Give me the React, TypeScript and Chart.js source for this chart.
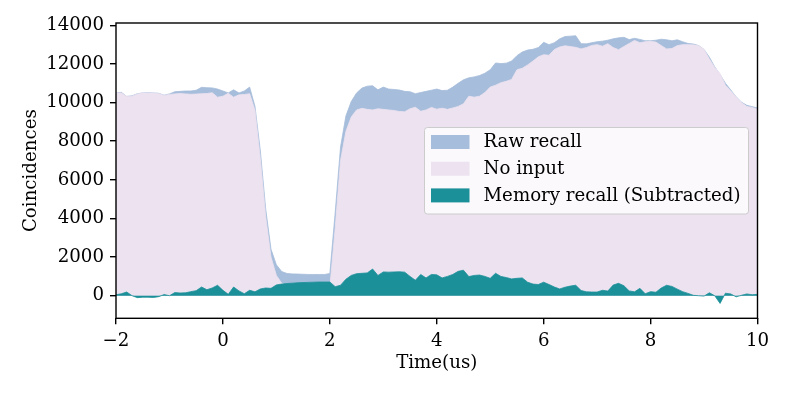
import React, { useEffect, useRef } from 'react';
import { Chart, registerables } from 'chart.js';

Chart.register(...registerables);

const TIME = [
  -2.0, -1.9, -1.8, -1.7, -1.6, -1.5, -1.4, -1.3, -1.2, -1.1,
  -1.0, -0.9, -0.8, -0.7, -0.6, -0.5, -0.4, -0.3, -0.2, -0.1,
  0.0, 0.1, 0.2, 0.3, 0.4, 0.5, 0.6, 0.7, 0.8, 0.9,
  1.0, 1.1, 1.2, 1.3, 1.4, 1.5, 1.6, 1.7, 1.8, 1.9,
  2.0, 2.1, 2.2, 2.3, 2.4, 2.5, 2.6, 2.7, 2.8, 2.9,
  3.0, 3.1, 3.2, 3.3, 3.4, 3.5, 3.6, 3.7, 3.8, 3.9,
  4.0, 4.1, 4.2, 4.3, 4.4, 4.5, 4.6, 4.7, 4.8, 4.9,
  5.0, 5.1, 5.2, 5.3, 5.4, 5.5, 5.6, 5.7, 5.8, 5.9,
  6.0, 6.1, 6.2, 6.3, 6.4, 6.5, 6.6, 6.7, 6.8, 6.9,
  7.0, 7.1, 7.2, 7.3, 7.4, 7.5, 7.6, 7.7, 7.8, 7.9,
  8.0, 8.1, 8.2, 8.3, 8.4, 8.5, 8.6, 8.7, 8.8, 8.9,
  9.0, 9.1, 9.2, 9.3, 9.4, 9.5, 9.6, 9.7, 9.8, 9.9,
  10.0,
];

const RAW_RECALL = [
  10490, 10530, 10320, 10350, 10460, 10500, 10510, 10500, 10480, 10380,
  10450, 10560, 10580, 10600, 10600, 10640, 10790, 10770, 10760, 10700,
  10600, 10500, 10660, 10500, 10600, 10800, 9800, 7500, 4500, 2400,
  1600, 1250, 1150, 1130, 1120, 1110, 1100, 1100, 1100, 1100,
  1150, 4300, 7700, 9300, 10050, 10500, 10750, 10850, 10870, 10660,
  10800, 10700, 10680, 10650, 10580, 10560, 10460, 10520, 10580, 10640,
  10700, 10620, 10640, 10800, 11000, 11180, 11280, 11330, 11400, 11520,
  11700, 12050, 12020, 12040, 12150, 12430, 12620, 12720, 12760, 12850,
  13120, 13000, 13100, 13300, 13420, 13440, 13460, 13050, 13040, 13100,
  13150, 13180, 13230, 13300, 13350, 13380, 13260, 13330, 13270, 13200,
  13200, 13230, 13280, 13250, 13200, 13250, 13150, 13060, 13030, 12950,
  12750, 12350, 11850, 11450, 11000, 10650, 10300, 10020, 9860, 9790,
  9720,
];

const NO_INPUT = [
  10490, 10500, 10320, 10330, 10450, 10490, 10500, 10490, 10470, 10370,
  10420, 10450, 10470, 10450, 10430, 10440, 10460, 10470, 10510, 10280,
  10330, 10480, 10280, 10400, 10420, 10460, 9600, 7100, 4100, 2000,
  1050, 650, 520, 480, 450, 430, 410, 400, 390, 390,
  440, 3500, 7000, 8500, 9250, 9620, 9700, 9650, 9620, 9680,
  9650, 9620, 9590, 9540, 9520, 9680, 9760, 9550, 9620, 9750,
  9660, 9710, 9650, 9720, 9800, 9940, 10330, 10280, 10330, 10520,
  10800, 10900, 11030, 11100, 11200, 11700, 11780, 11950, 12150, 12370,
  12480, 12450, 12750, 12880, 12940, 12900, 12860, 12780, 12850, 12960,
  13000, 12920, 13050, 12850, 12740, 12900, 13060, 13220, 13100, 13150,
  13170, 13130, 12950, 12780, 12800, 12950, 13000, 13000, 12990, 12940,
  12760, 12250, 11820, 11500, 10900, 10600, 10300, 10000, 9800, 9750,
  9660,
];

const MEMORY_RECALL = [
  50, 100, 190, 0, -100, -80, -80, -90, -50, 60,
  0, 160, 140, 150, 210, 260, 450, 310, 400, 540,
  280, 70, 450, 250, 100, 280, 200, 350, 400, 380,
  560, 600, 630, 650, 670, 680, 690, 700, 710, 710,
  710, 470, 540, 850, 1050, 1140, 1160, 1180, 1380, 1050,
  1230, 1220, 1230, 1240, 1220, 1000, 800, 1100, 920, 1100,
  1080, 920, 1000, 1100, 1260, 1320, 990, 1050, 1070, 1000,
  900, 1160, 1000, 940, 870, 900, 920, 700, 600, 580,
  700, 580, 450, 350, 440, 500, 540, 270, 200, 190,
  190, 280, 240, 550, 640, 520, 250, 200, 380, 100,
  210, 180, 400, 540, 480, 340, 210, 120, 20, 0,
  -20, 150, 0, -400, 130, 90, -60, 20, 90, 50,
  70,
];

const X_TICKS = [-2, 0, 2, 4, 6, 8, 10];
const Y_TICKS = [0, 2000, 4000, 6000, 8000, 10000, 12000, 14000];
const SERIES_LABELS = ['Raw recall', 'No input', 'Memory recall (Subtracted)'];
const SERIES_COLORS = ['#a6bddb', '#ece2f0', '#1c9099'];
const X_TITLE = 'Time(us)';
const Y_TITLE = 'Coincidences';

const FONT_FAMILY = "'DejaVu Serif', serif";
const FONT_SIZE = 18.2;

const fmt = (v: number) => (v < 0 ? '\u2212' + Math.abs(v) : String(v));

const framePlugin = {
  id: 'frame',
  afterDatasetsDraw(chart: any) {
    const { ctx, chartArea: a } = chart;
    ctx.save();
    ctx.strokeStyle = '#000';
    ctx.lineWidth = 1.4;
    ctx.strokeRect(a.left, a.top, a.right - a.left, a.bottom - a.top);
    ctx.restore();
  },
};

const legendPlugin = {
  id: 'mplLegend',
  afterDraw(chart: any) {
    const { ctx } = chart;
    const x0 = 424.5, y0 = 127.5, w = 324, h = 86.5, r = 3;
    ctx.save();
    ctx.beginPath();
    ctx.moveTo(x0 + r, y0);
    ctx.lineTo(x0 + w - r, y0);
    ctx.quadraticCurveTo(x0 + w, y0, x0 + w, y0 + r);
    ctx.lineTo(x0 + w, y0 + h - r);
    ctx.quadraticCurveTo(x0 + w, y0 + h, x0 + w - r, y0 + h);
    ctx.lineTo(x0 + r, y0 + h);
    ctx.quadraticCurveTo(x0, y0 + h, x0, y0 + h - r);
    ctx.lineTo(x0, y0 + r);
    ctx.quadraticCurveTo(x0, y0, x0 + r, y0);
    ctx.closePath();
    ctx.fillStyle = 'rgba(255,255,255,0.8)';
    ctx.fill();
    ctx.strokeStyle = '#cccccc';
    ctx.lineWidth = 1;
    ctx.stroke();
    ctx.font = `${FONT_SIZE}px ${FONT_FAMILY}`;
    ctx.textBaseline = 'middle';
    ctx.textAlign = 'left';
    SERIES_LABELS.forEach((label, i) => {
      const cy = 142 + i * 26.7;
      ctx.fillStyle = SERIES_COLORS[i];
      ctx.fillRect(431, cy - 7, 38.5, 14);
      ctx.fillStyle = '#000';
      ctx.fillText(label, 483.5, cy + 0.5);
    });
    ctx.restore();
  },
};

export default function App() {
  const canvasRef = useRef<HTMLCanvasElement | null>(null);

  useEffect(() => {
    if (!canvasRef.current) return;
    Chart.defaults.font.family = FONT_FAMILY;
    Chart.defaults.color = '#000';

    const mk = (arr: number[]) => TIME.map((t, i) => ({ x: t, y: arr[i] }));
    const series = [RAW_RECALL, NO_INPUT, MEMORY_RECALL];
    // first dataset is drawn on top in Chart.js, so reverse order
    const datasets = [2, 1, 0].map((k) => ({
      label: SERIES_LABELS[k],
      data: mk(series[k]),
      backgroundColor: SERIES_COLORS[k],
      borderColor: SERIES_COLORS[k],
      borderWidth: 0.8,
      pointRadius: 0,
      fill: 'origin',
      tension: 0,
    }));

    const chart = new Chart(canvasRef.current, {
      type: 'line',
      data: { datasets },
      options: {
        animation: false,
        responsive: false,
        devicePixelRatio: 1,
        layout: { padding: { top: 23, right: 31.5, left: 0, bottom: 0 } },
        plugins: { legend: { display: false }, tooltip: { enabled: false } },
        scales: {
          x: {
            type: 'linear',
            min: -2,
            max: 10,
            afterFit: (s: any) => { s.height = 76.7; },
            afterBuildTicks: (s: any) => { s.ticks = X_TICKS.map((v) => ({ value: v })); },
            grid: { drawOnChartArea: false, drawTicks: true, tickLength: 6, color: '#000', lineWidth: 1.4 },
            border: { display: false },
            ticks: {
              padding: 6,
              maxRotation: 0,
              autoSkip: false,
              font: { size: FONT_SIZE, family: FONT_FAMILY },
              color: '#000',
              callback: (v: any) => fmt(Number(v)),
            },
            title: {
              display: true,
              text: X_TITLE,
              font: { size: FONT_SIZE, family: FONT_FAMILY },
              color: '#000',
              padding: { top: 0, bottom: 21 },
            },
          },
          y: {
            type: 'linear',
            min: -1170,
            max: 14120,
            afterFit: (s: any) => { s.width = 116; },
            afterBuildTicks: (s: any) => { s.ticks = Y_TICKS.map((v) => ({ value: v })); },
            grid: { drawOnChartArea: false, drawTicks: true, tickLength: 6, color: '#000', lineWidth: 1.4 },
            border: { display: false },
            ticks: {
              padding: 6,
              autoSkip: false,
              font: { size: FONT_SIZE, family: FONT_FAMILY },
              color: '#000',
              callback: (v: any) => fmt(Number(v)),
            },
            title: {
              display: true,
              text: Y_TITLE,
              font: { size: FONT_SIZE, family: FONT_FAMILY },
              color: '#000',
              padding: { top: 20, bottom: 0 },
            },
          },
        },
      },
      plugins: [framePlugin, legendPlugin],
    } as any);

    return () => chart.destroy();
  }, []);

  return (
    <div style={{ position: 'fixed', left: 0, top: 0, width: 789, height: 395, background: '#fff' }}>
      <canvas ref={canvasRef} width={789} height={395} style={{ display: 'block' }} />
    </div>
  );
}
